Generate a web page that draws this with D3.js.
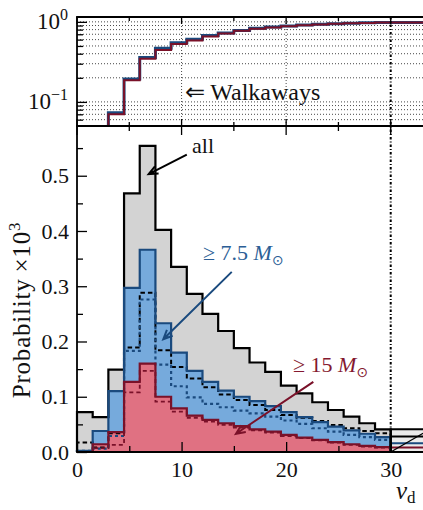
<!DOCTYPE html>
<html>
<head>
<meta charset="utf-8">
<script src="https://cdn.jsdelivr.net/npm/d3@7"></script>
<style>
  body { margin: 0; background: #fff; }
  svg { display: block; }
</style>
</head>
<body>
<svg id="chart" width="423" height="510"></svg>
<script>
// Velocity bins (km/s), width 1.5, from 0 to 30
const binEdges = d3.range(0, 30.001, 1.5);
const overflowEdge = 36;

// Probability x 10^3 per bin
const allKicks     = [0.072, 0.063, 0.149, 0.468, 0.554, 0.402, 0.335, 0.286, 0.250, 0.219, 0.188, 0.162, 0.145, 0.120, 0.106, 0.090, 0.076, 0.064, 0.052, 0.041];
const allKicksAlt  = [0.017, 0.008, 0.034, 0.189, 0.288, 0.184, 0.154, 0.133, 0.117, 0.104, 0.094, 0.085, 0.076, 0.067, 0.062, 0.056, 0.049, 0.043, 0.038, 0.034];
const above7       = [0.002, 0.038, 0.110, 0.297, 0.366, 0.233, 0.180, 0.147, 0.127, 0.111, 0.100, 0.092, 0.083, 0.072, 0.063, 0.054, 0.046, 0.039, 0.033, 0.027];
const above7Alt    = [0.002, 0.006, 0.029, 0.183, 0.276, 0.158, 0.119, 0.099, 0.087, 0.081, 0.075, 0.070, 0.064, 0.057, 0.051, 0.043, 0.037, 0.031, 0.027, 0.022];
const above15      = [0.000, 0.014, 0.036, 0.127, 0.160, 0.100, 0.079, 0.066, 0.058, 0.052, 0.047, 0.041, 0.037, 0.031, 0.026, 0.022, 0.018, 0.014, 0.011, 0.009];
const above15Alt   = [0.000, 0.007, 0.013, 0.108, 0.147, 0.091, 0.073, 0.062, 0.055, 0.049, 0.044, 0.039, 0.035, 0.029, 0.025, 0.021, 0.017, 0.013, 0.010, 0.008];
// Last bin: everything above 30 km/s
const overflowVals = { all: 0.041, allAlt: 0.028, above7: 0.016, above15: 0.008 };

// Cumulative walkaway fraction, starting at the 3 km/s bin
const cumStart = 3;
const cumAbove7  = [0.073, 0.193, 0.360, 0.468, 0.550, 0.606, 0.674, 0.728, 0.782, 0.830, 0.860, 0.890, 0.915, 0.935, 0.950, 0.962, 0.972, 0.985];
const cumAbove15 = [0.070, 0.186, 0.347, 0.446, 0.530, 0.583, 0.655, 0.716, 0.772, 0.822, 0.852, 0.882, 0.908, 0.930, 0.946, 0.958, 0.970, 0.980];

const yTicksMajor = [0, 0.1, 0.2, 0.3, 0.4, 0.5];
const yTicksMinor = [0.05, 0.15, 0.25, 0.35, 0.45, 0.55];
const xTicksMajor = [0, 10, 20, 30];
const xTicksMinor = [5, 15, 25, 35];
const logMajor = [0.1, 1];
const logMinor = [0.06, 0.07, 0.08, 0.09, 0.2, 0.3, 0.4, 0.5, 0.6, 0.7, 0.8, 0.9];

const colors = {
  grayFill: "#d3d3d3", blueFill: "#76aadc", redFill: "#e07182",
  blueLine: "#1a4a7e", redLine: "#7a1129",
  blueText: "#2b5e96", redText: "#84182f"
};
const FONT = '"Liberation Serif"';

const svg = d3.select("#chart").style("font-family", FONT);
const padLeft = 77, yBottom = 452, yMid = 126, yTopEdge = 17;

const x = d3.scaleLinear().domain([0, 35]).range([padLeft, padLeft + 10.457 * 35]);
const y = d3.scaleLinear().domain([0, 0.59]).range([yBottom, yMid]);
const yTop = d3.scaleLog().domain([0.05, 1.15]).range([yMid, yTopEdge]);

const line = d3.line();

function histPoints(vals, edges) {
  const pts = [[x(edges[0]), y(0)]];
  vals.forEach((v, i) => {
    pts.push([x(edges[i]), y(v)]);
    pts.push([x(edges[i + 1]), y(v)]);
  });
  pts.push([x(edges[edges.length - 1]), y(0)]);
  return pts;
}

function addText(sel, size) {
  return sel.append("text").style("font-family", FONT).style("font-size", size + "px").style("fill", "#111");
}

// ---------- upper panel: cumulative walkaways ----------
const topG = svg.append("g");
svg.append("clipPath").attr("id", "clipTop")
  .append("rect").attr("x", padLeft).attr("y", yTopEdge).attr("width", 423 - padLeft).attr("height", yMid - yTopEdge);

topG.selectAll("line.hgrid").data(logMinor.concat(logMajor)).join("line")
  .attr("x1", padLeft).attr("x2", 423)
  .attr("y1", d => yTop(d)).attr("y2", d => yTop(d))
  .attr("stroke", "#333").attr("stroke-width", 0.9).attr("stroke-dasharray", "1,2");
topG.selectAll("line.vgrid").data([10, 20]).join("line")
  .attr("x1", d => x(d)).attr("x2", d => x(d))
  .attr("y1", yTopEdge).attr("y2", yMid)
  .attr("stroke", "#333").attr("stroke-width", 0.9).attr("stroke-dasharray", "1,2");

function cumPoints(vals) {
  const pts = [[x(cumStart), yTop(0.05)]];
  vals.forEach((v, i) => {
    const x0 = cumStart + 1.5 * i;
    const x1 = i === vals.length - 1 ? overflowEdge : x0 + 1.5;
    pts.push([x(x0), yTop(v)]);
    pts.push([x(x1), yTop(v)]);
  });
  return pts;
}
const cumG = topG.append("g").attr("clip-path", "url(#clipTop)");
cumG.append("path").attr("d", line(cumPoints(cumAbove7)))
  .attr("fill", "none").attr("stroke", colors.blueLine).attr("stroke-width", 3);
cumG.append("path").attr("d", line(cumPoints(cumAbove15)))
  .attr("fill", "none").attr("stroke", colors.redLine).attr("stroke-width", 2);

// ---------- lower panel: distributions ----------
const lowG = svg.append("g");
const overflowEdges = [30, overflowEdge];

// fills
[[allKicks, colors.grayFill], [above7, colors.blueFill], [above15, colors.redFill]]
  .forEach(([vals, fill]) => {
    lowG.append("path").attr("d", line(histPoints(vals, binEdges)) + "Z").attr("fill", fill);
  });
lowG.append("path").attr("d", line(histPoints([overflowVals.all], overflowEdges)) + "Z").attr("fill", "#ececec");

// outlines
const styles = [
  [allKicks, "#000", null, 2.2],
  [allKicksAlt, "#000", "4.5,3", 2],
  [above7, colors.blueLine, null, 2.2],
  [above7Alt, colors.blueLine, "3,3", 2.2],
  [above15, colors.redLine, null, 2.2],
  [above15Alt, colors.redLine, "4,3", 1.8]
];
styles.forEach(([vals, stroke, dash, w]) => {
  lowG.append("path").attr("d", line(histPoints(vals, binEdges)))
    .attr("fill", "none").attr("stroke", stroke).attr("stroke-width", w)
    .attr("stroke-dasharray", dash).attr("stroke-linejoin", "miter");
});

// overflow bin outlines and hatch
[[overflowVals.above15, colors.redLine], [overflowVals.above7, colors.blueLine],
 [overflowVals.allAlt, "#000"], [overflowVals.all, "#000"]].forEach(([v, c]) => {
  lowG.append("path").attr("d", line(histPoints([v], overflowEdges)))
    .attr("fill", "none").attr("stroke", c).attr("stroke-width", 2);
});
lowG.append("line")
  .attr("x1", x(30)).attr("y1", y(0)).attr("x2", x(33.1)).attr("y2", y(0.034))
  .attr("stroke", "#000").attr("stroke-width", 1.3);

// vertical marker at 30 km/s through both panels
svg.append("line").attr("x1", x(30)).attr("x2", x(30)).attr("y1", yTopEdge).attr("y2", yBottom)
  .attr("stroke", "#000").attr("stroke-width", 2).attr("stroke-dasharray", "2.5,2,1,2");

// ---------- axes ----------
function styleAxis(g) {
  g.attr("font-family", null).attr("font-size", null);
  g.selectAll(".domain").remove();
  g.selectAll(".tick line").attr("stroke", "#000").attr("stroke-width", 1.3);
  g.selectAll(".tick text").style("font-size", "22px").style("fill", "#111").style("font-family", FONT);
}

// lower y axis
svg.append("g").attr("transform", `translate(${padLeft},0)`)
  .call(d3.axisLeft(y).tickValues(yTicksMajor).tickFormat(d3.format(".1f")).tickSizeInner(-10).tickSizeOuter(0).tickPadding(8))
  .call(styleAxis);
svg.append("g").attr("transform", `translate(${padLeft},0)`)
  .call(d3.axisLeft(y).tickValues(yTicksMinor).tickFormat("").tickSizeInner(-6).tickSizeOuter(0))
  .call(styleAxis);

// lower x axis
svg.append("g").attr("transform", `translate(0,${yBottom})`)
  .call(d3.axisBottom(x).tickValues(xTicksMajor).tickFormat(d3.format("d")).tickSizeInner(-10).tickSizeOuter(0).tickPadding(9))
  .call(styleAxis);
svg.append("g").attr("transform", `translate(0,${yBottom})`)
  .call(d3.axisBottom(x).tickValues(xTicksMinor).tickFormat("").tickSizeInner(-6).tickSizeOuter(0))
  .call(styleAxis);

// shared boundary ticks (top of lower panel, bottom of upper panel) and top of upper panel
[[yMid, 9, 5], [yMid, -7, -4], [yTopEdge, 7, 4]].forEach(([yy, lenMaj, lenMin]) => {
  svg.append("g").selectAll("line").data(xTicksMajor.concat(xTicksMinor)).join("line")
    .attr("x1", d => x(d)).attr("x2", d => x(d))
    .attr("y1", yy).attr("y2", d => yy + (d % 10 === 0 ? lenMaj : lenMin))
    .attr("stroke", "#000").attr("stroke-width", 1.3);
});

// upper y axis (log)
svg.append("g").attr("transform", `translate(${padLeft},0)`)
  .call(d3.axisLeft(yTop).tickValues(logMajor).tickFormat("").tickSizeInner(-10).tickSizeOuter(0))
  .call(styleAxis);
svg.append("g").attr("transform", `translate(${padLeft},0)`)
  .call(d3.axisLeft(yTop).tickValues(logMinor).tickFormat("").tickSizeInner(-6).tickSizeOuter(0))
  .call(styleAxis);
logMajor.forEach(v => {
  const t = addText(svg, 23).attr("x", padLeft - 9).attr("y", yTop(v) + 7).attr("text-anchor", "end");
  t.append("tspan").text("10");
  t.append("tspan").attr("dy", -9).style("font-size", "16px").text(v === 1 ? "0" : "\u22121");
});

// spines
const spine = (x1, y1, x2, y2, w) => svg.append("line")
  .attr("x1", x1).attr("y1", y1).attr("x2", x2).attr("y2", y2)
  .attr("stroke", "#000").attr("stroke-width", w);
spine(padLeft, yTopEdge, padLeft, yBottom, 1.8);
spine(padLeft - 0.9, yBottom, 423, yBottom, 2);
spine(padLeft - 0.9, yMid, 423, yMid, 2);
spine(padLeft - 0.9, yTopEdge, 423, yTopEdge, 2);

// ---------- labels ----------
const ylab = addText(svg, 25)
  .attr("transform", `translate(30,${(yMid + yBottom) / 2 + 21}) rotate(-90)`)
  .attr("text-anchor", "middle").style("letter-spacing", "0.8px");
ylab.append("tspan").text("Probability\u2009\u00d710");
ylab.append("tspan").attr("dy", -10).style("font-size", "17px").text("3");

const xlab = addText(svg, 25).attr("x", 396).attr("y", 499);
xlab.append("tspan").style("font-style", "italic").text("v");
xlab.append("tspan").attr("dy", 4).style("font-size", "17px").text("d");

// walkaway note
addText(svg, 24).attr("x", x(10.3)).attr("y", yTop(0.106)).text("\u21d0 Walkaways");

// annotations with arrows
function arrow(from, to, color) {
  const [x1, y1] = [x(from[0]), y(from[1])];
  const [x2, y2] = [x(to[0]), y(to[1])];
  const a = Math.atan2(y2 - y1, x2 - x1);
  const h = 10, s = 0.42;
  svg.append("path")
    .attr("d", `M${x1},${y1}L${x2},${y2}M${x2 - h * Math.cos(a - s)},${y2 - h * Math.sin(a - s)}L${x2},${y2}L${x2 - h * Math.cos(a + s)},${y2 - h * Math.sin(a + s)}`)
    .attr("fill", "none").attr("stroke", color).attr("stroke-width", 2);
}
arrow([10.5, 0.538], [6.85, 0.503], "#000");
arrow([14.8, 0.326], [8.25, 0.204], colors.blueLine);
arrow([22.6, 0.127], [15.2, 0.033], colors.redLine);

addText(svg, 22).attr("x", x(11.0)).attr("y", y(0.542)).text("all");

function massLabel(px, py, value, color) {
  const t = addText(svg, 22).attr("x", x(px)).attr("y", y(py)).style("fill", color);
  t.append("tspan").text("\u2265 " + value + " ");
  t.append("tspan").style("font-style", "italic").text("M");
  t.append("tspan").attr("dy", 5).style("font-size", "14px").style("font-family", '"DejaVu Sans"').text("\u2299");
}
massLabel(12.05, 0.3475, "7.5", colors.blueText);
massLabel(20.66, 0.145, "15", colors.redText);
</script>
</body>
</html>
